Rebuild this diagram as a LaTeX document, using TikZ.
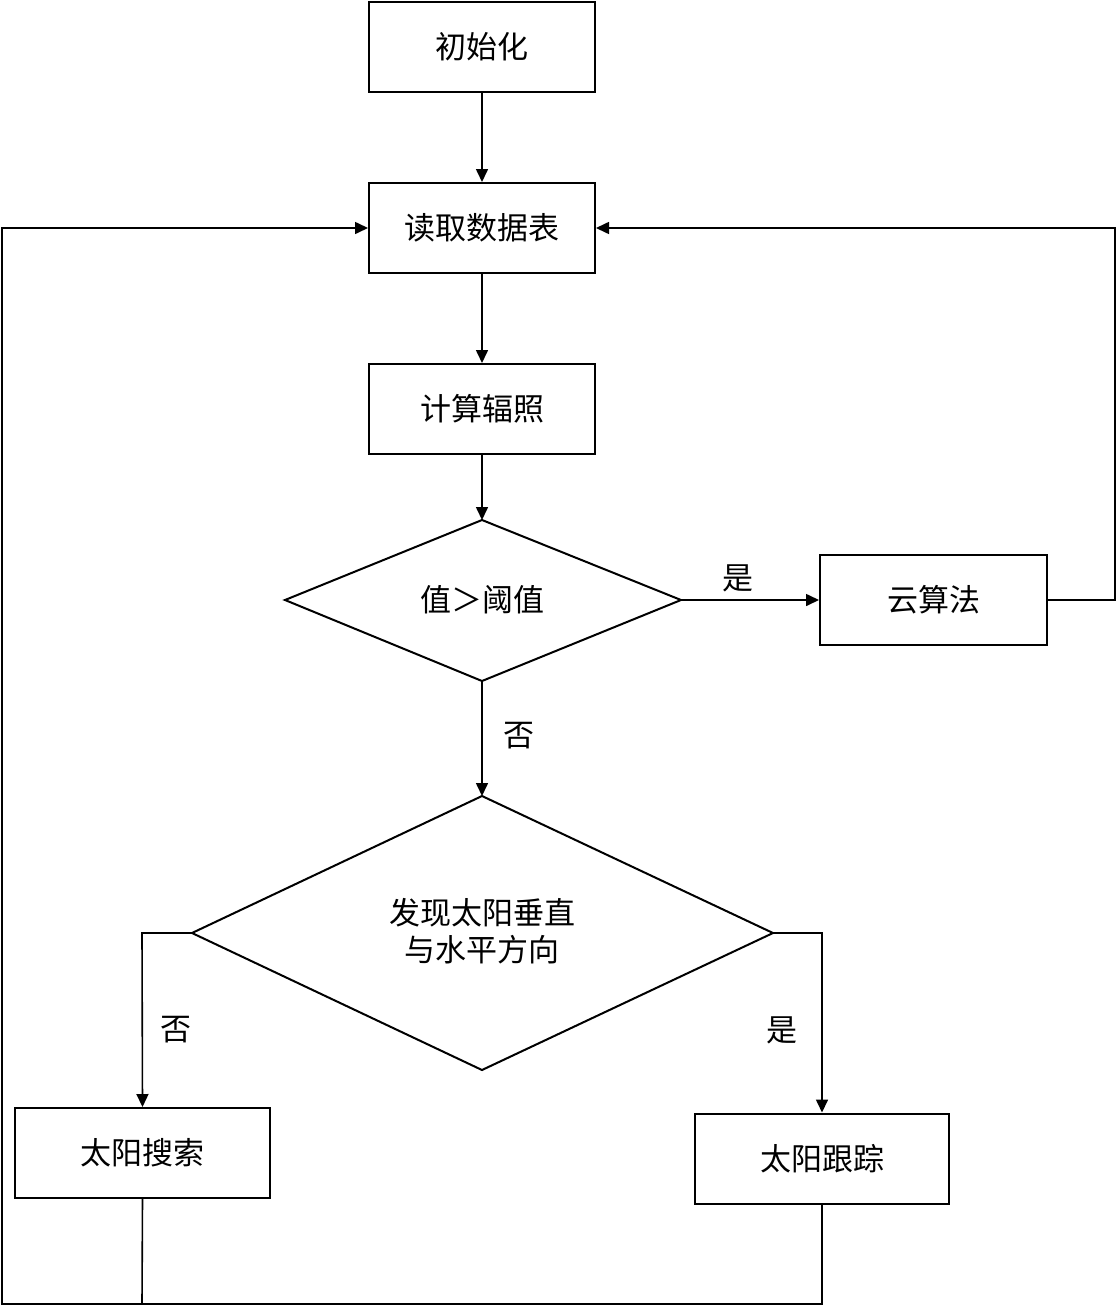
\documentclass[tikz,border=0pt]{standalone}
\usepackage{fontspec}
\setmainfont{Noto Sans CJK SC}
\usetikzlibrary{shapes.geometric,arrows.meta}
\begin{document}
\begin{tikzpicture}[x=0.5pt,y=-0.5pt,
  font=\fontsize{15.5}{18.5}\selectfont,
  proc/.style={draw,line width=1pt,minimum width=113pt,minimum height=45pt,inner sep=0pt},
  conn/.style={line width=0.8pt,-{Triangle[length=6.5pt,width=6pt]}},
  plain/.style={line width=0.8pt},
  lbl/.style={inner sep=0pt}]
\useasboundingbox (0,0) rectangle (1117,1306);
\node[proc] (init) at (482,47) {初始化};
\node[proc] (read) at (482,228) {读取数据表};
\node[proc] (calc) at (482,409) {计算辐照};
\draw[line width=1pt] (285,600) coordinate (d1w) -- (482,520) coordinate (d1n) -- (681,600) coordinate (d1e) -- (482,681) coordinate (d1s) -- cycle;
\node (d1) at (482,600) {值＞阈值};
\node[proc,minimum width=113.5pt] (cloud) at (933.5,600) {云算法};
\draw[line width=1pt] (192,933) coordinate (d2w) -- (482,796) coordinate (d2n) -- (773,933) coordinate (d2e) -- (482,1070) coordinate (d2s) -- cycle;
\node[align=center] (d2) at (482,931) {发现太阳垂直\\与水平方向};
\node[proc,minimum width=127.5pt] (search) at (142.5,1153) {太阳搜索};
\node[proc,minimum width=127pt] (track) at (822,1158.5) {太阳跟踪};

\coordinate (rtop) at (1115,228);
\coordinate (lbot) at (2,1304);
\coordinate (ltop) at (2,228);
\coordinate (sbot) at (142,1304);
\coordinate (tbot) at (822,1304);
\coordinate (d2wl) at (142,933);
\coordinate (d2er) at (822,933);

\draw[conn] (init) -- (read);
\draw[conn] (read) -- (calc);
\draw[conn] (calc) -- (d1n);
\draw[conn] (d1e) -- (cloud);
\draw[conn] (cloud.east) -- (cloud.east -| rtop) -- (rtop) -- (read.east);
\draw[conn] (d1s) -- (d2n);
\draw[conn] (d2w) -- (d2wl) -- (search.north);
\draw[conn] (d2e) -- (d2er) -- (track.north);
\draw[plain] (search.south) -- (sbot);
\draw[conn] (track.south) -- (tbot) -- (lbot) -- (ltop) -- (read.west);

\node[lbl] (yes1) at (738,578) {是};
\node[lbl] (no1) at (519,736) {否};
\node[lbl] (no2) at (176,1030) {否};
\node[lbl] (yes2) at (782,1030) {是};
\end{tikzpicture}
\end{document}
